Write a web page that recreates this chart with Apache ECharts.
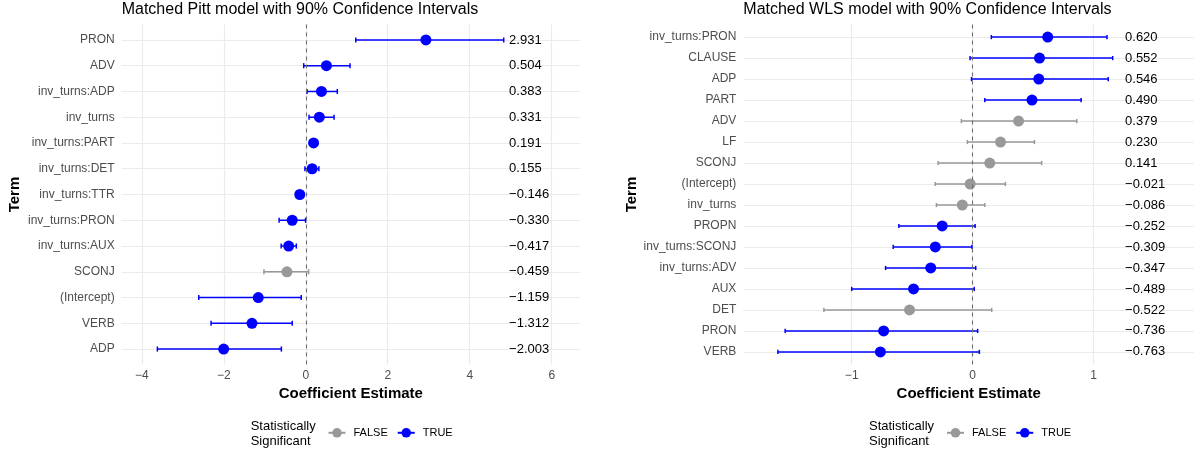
<!DOCTYPE html>
<html><head><meta charset="utf-8">
<script src="https://cdn.jsdelivr.net/npm/echarts@6/dist/echarts.min.js"></script>
<style>html,body{margin:0;padding:0;background:#fff}#c{width:1198px;height:452px}</style>
</head><body><div id="c"></div>
<script>
// ---- Data: Matched Pitt model ----
const pittTerms = ['PRON','ADV','inv_turns:ADP','inv_turns','inv_turns:PART','inv_turns:DET','inv_turns:TTR','inv_turns:PRON','inv_turns:AUX','SCONJ','(Intercept)','VERB','ADP'];
const pittEst  = [2.931, 0.504, 0.383, 0.331, 0.191, 0.155, -0.146, -0.330, -0.417, -0.459, -1.159, -1.312, -2.003];
const pittLow  = [1.22, -0.05, 0.03, 0.08, 0.12, -0.02, -0.22, -0.65, -0.60, -1.02, -2.61, -2.31, -3.62];
const pittHigh = [4.83, 1.08, 0.77, 0.69, 0.27, 0.32, -0.07, -0.005, -0.23, 0.07, -0.11, -0.33, -0.595];
const pittSig  = [1,1,1,1,1,1,1,1,1,0,1,1,1];
const pittTicks = [-4, -2, 0, 2, 4, 6];

// ---- Data: Matched WLS model ----
const wlsTerms = ['inv_turns:PRON','CLAUSE','ADP','PART','ADV','LF','SCONJ','(Intercept)','inv_turns','PROPN','inv_turns:SCONJ','inv_turns:ADV','AUX','DET','PRON','VERB'];
const wlsEst  = [0.620, 0.552, 0.546, 0.490, 0.379, 0.230, 0.141, -0.021, -0.086, -0.252, -0.309, -0.347, -0.489, -0.522, -0.736, -0.763];
const wlsLow  = [0.154, -0.022, -0.010, 0.10, -0.094, -0.044, -0.286, -0.31, -0.30, -0.61, -0.657, -0.72, -1.0, -1.23, -1.55, -1.61];
const wlsHigh = [1.11, 1.157, 1.12, 0.896, 0.86, 0.51, 0.57, 0.27, 0.10, 0.02, -0.006, 0.025, 0.013, 0.157, 0.041, 0.055];
const wlsSig  = [1,1,1,1,0,0,0,0,0,1,1,1,1,0,1,1];
const wlsTicks = [-1, 0, 1];

const sigNames = ['FALSE', 'TRUE'];

// ---- Styling ----
const FONT = '"Liberation Sans", Arial, Helvetica, sans-serif';
const BLUE = '#0000FF', GREY = '#999999', GRID = '#EBEBEB', AXT = '#4D4D4D';
const minus = v => String(v).replace('-', '\u2212');
const fmt3 = v => (v < 0 ? '\u2212' : '') + Math.abs(v).toFixed(3);

const panels = [
  { title: 'Matched Pitt model with 90% Confidence Intervals', terms: pittTerms, est: pittEst, low: pittLow, high: pittHigh, sig: pittSig, ticks: pittTicks,
    grid: {left: 121.7, top: 24.5, width: 458.3, height: 340}, xmin: -4.49, xmax: 6.69, labelX: 4.96, termGap: 99, legendTitleLeft: 250.7, legendLeft: 327.5 },
  { title: 'Matched WLS model with 90% Confidence Intervals', terms: wlsTerms, est: wlsEst, low: wlsLow, high: wlsHigh, sig: wlsSig, ticks: wlsTicks,
    grid: {left: 743.3, top: 24.5, width: 450.7, height: 340}, xmin: -1.896, xmax: 1.829, labelX: 1.259, termGap: 103.5, legendTitleLeft: 869, legendLeft: 946 }
];

const option = { animation: false, backgroundColor: '#fff', grid: [], xAxis: [], yAxis: [], series: [], title: [], legend: [] };

panels.forEach((p, k) => {
  const n = p.terms.length;
  const idx = p.terms.map((t, i) => i);
  option.grid.push(Object.assign({containLabel: false}, p.grid));
  option.xAxis.push({
    type: 'value', gridIndex: k, min: p.xmin, max: p.xmax,
    name: 'Coefficient Estimate', nameLocation: 'middle', nameGap: 18.5,
    nameTextStyle: {fontFamily: FONT, fontSize: 15, fontWeight: 'bold', color: '#000'},
    axisLine: {show: false}, axisTick: {show: false, customValues: p.ticks},
    axisLabel: {customValues: p.ticks, formatter: minus, color: AXT, fontSize: 12, fontFamily: FONT, margin: 5},
    splitLine: {show: true, lineStyle: {color: GRID, width: 1.2}}
  });
  option.yAxis.push({
    type: 'value', gridIndex: k, inverse: true, min: -0.6, max: n - 1 + 0.6,
    name: 'Term', nameLocation: 'middle', nameGap: p.termGap,
    nameTextStyle: {fontFamily: FONT, fontSize: 15, fontWeight: 'bold', color: '#000'},
    axisLine: {show: false}, axisTick: {show: false, customValues: idx},
    axisLabel: {customValues: idx, formatter: v => p.terms[Math.round(v)], color: AXT, fontSize: 12, fontFamily: FONT, margin: 7},
    splitLine: {show: true, lineStyle: {color: GRID, width: 1.2}}
  });
  // error bars
  option.series.push({
    type: 'custom', xAxisIndex: k, yAxisIndex: k, silent: true, z: 2,
    encode: {x: [0, 1], y: 2},
    data: p.terms.map((t, i) => [p.low[i], p.high[i], i, p.sig[i]]),
    renderItem: (params, api) => {
      const a = api.coord([api.value(0), api.value(2)]);
      const b = api.coord([api.value(1), api.value(2)]);
      const cap = api.size([0, 1])[1] * 0.1;
      const st = {stroke: api.value(3) ? BLUE : GREY, lineWidth: 1.5, fill: null};
      return {type: 'group', children: [
        {type: 'line', shape: {x1: a[0], y1: a[1], x2: b[0], y2: b[1]}, style: st},
        {type: 'line', shape: {x1: a[0], y1: a[1] - cap, x2: a[0], y2: a[1] + cap}, style: st},
        {type: 'line', shape: {x1: b[0], y1: b[1] - cap, x2: b[0], y2: b[1] + cap}, style: st}
      ]};
    },
    markLine: {silent: true, symbol: 'none', label: {show: false}, animation: false,
      lineStyle: {color: '#6E6E6E', type: [4, 4], width: 1.1}, data: [{xAxis: 0}]}
  });
  // points
  sigNames.forEach((nm, s) => {
    option.series.push({
      type: 'line', name: nm, xAxisIndex: k, yAxisIndex: k, silent: true, z: 3,
      symbol: 'circle', symbolSize: 11, showSymbol: true,
      itemStyle: {color: s ? BLUE : GREY},
      lineStyle: {color: s ? BLUE : GREY, width: 1.5, opacity: 0},
      data: p.terms.map((t, i) => p.sig[i] === s ? [p.est[i], i] : null).filter(d => d)
    });
  });
  // value labels
  option.series.push({
    type: 'custom', xAxisIndex: k, yAxisIndex: k, silent: true, z: 4,
    encode: {x: 0, y: 1},
    data: p.est.map((v, i) => [p.labelX, i, v]),
    renderItem: (params, api) => {
      const c = api.coord([api.value(0), api.value(1)]);
      return {type: 'text', x: c[0], y: c[1], style: {text: fmt3(api.value(2)), fill: '#000', fontSize: 13, fontFamily: FONT, align: 'left', verticalAlign: 'middle'}};
    }
  });
  option.title.push({text: p.title, left: p.grid.left, top: 2, padding: 0,
    textStyle: {fontFamily: FONT, fontSize: 16, fontWeight: 'normal', color: '#000'}});
  option.title.push({text: 'Statistically\nSignificant', left: p.legendTitleLeft, top: 419, padding: 0,
    textStyle: {fontFamily: FONT, fontSize: 13, lineHeight: 14.7, fontWeight: 'normal', color: '#000'}});
  option.legend.push({
    left: p.legendLeft, top: 427.3, padding: 0, orient: 'horizontal', selectedMode: false,
    data: sigNames, itemWidth: 17, itemHeight: 12, itemGap: 9,
    lineStyle: {width: 2, opacity: 1},
    textStyle: {fontFamily: FONT, fontSize: 11, color: '#000', padding: [0, 0, 0, 3]}
  });
});

const chart = echarts.init(document.getElementById('c'), null, {renderer: 'canvas'});
chart.setOption(option);
</script>
</body></html>
